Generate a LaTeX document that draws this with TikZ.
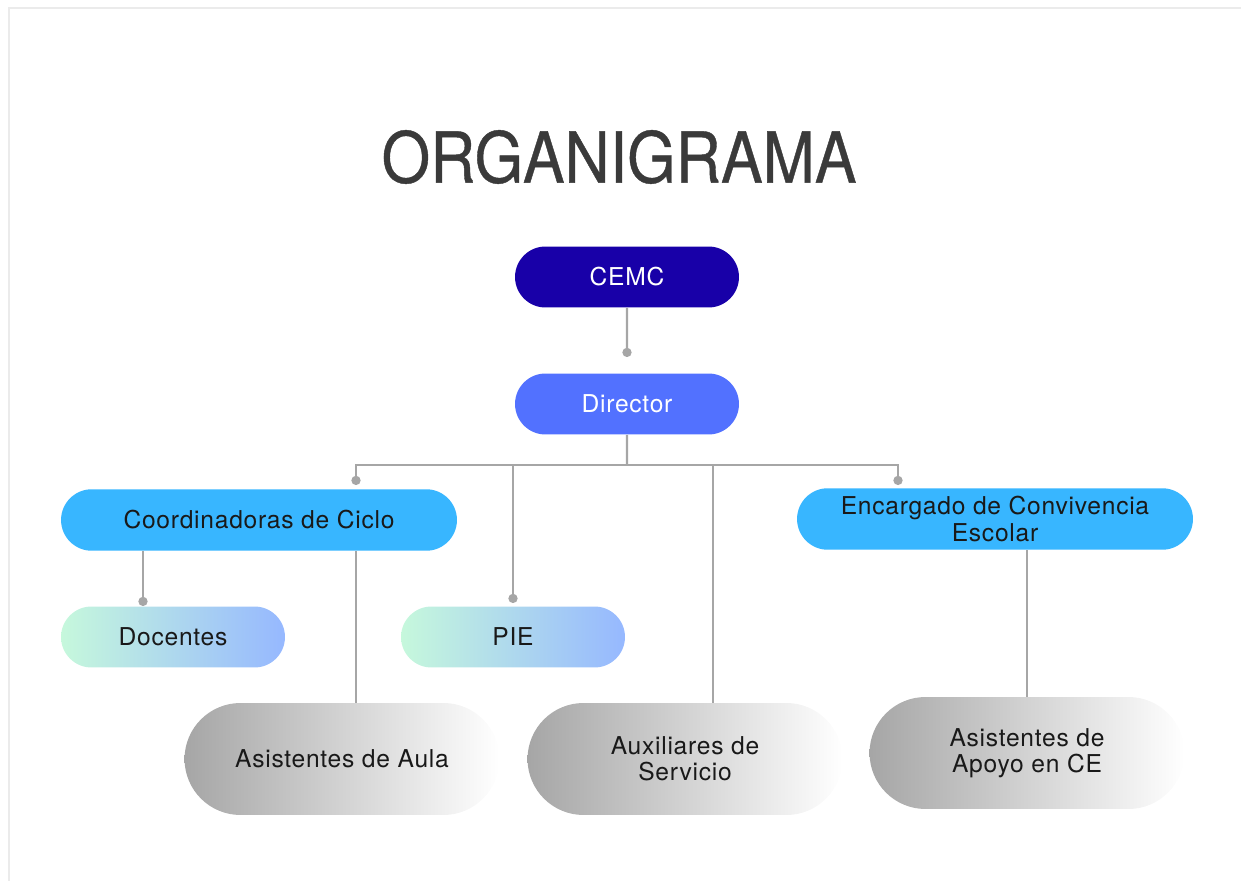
\documentclass[tikz,border=0pt]{standalone}
\usepackage{fontspec}
\setmainfont{TeX Gyre Heros}[LetterSpace=3]
\usetikzlibrary{shapes.misc,arrows.meta}

\definecolor{cemcblue}{HTML}{1800A8}
\definecolor{dirblue}{HTML}{5271FF}
\definecolor{skyblue}{HTML}{38B6FF}
\definecolor{mint}{HTML}{C6F8DC}
\definecolor{softblue}{HTML}{96B8FF}
\definecolor{linegray}{HTML}{A6A6A6}
\definecolor{titlegray}{HTML}{3A3A3A}

\begin{document}
\begin{tikzpicture}[x=0.02cm, y=-0.02cm,
	box/.style={shape=rounded rectangle, inner sep=0pt, align=center,
		font=\fontsize{14}{15}\selectfont, text=black!90},
	small/.style={box, minimum width=4.48cm, minimum height=1.22cm},
	wide/.style={box, minimum width=7.92cm, minimum height=1.23cm, fill=skyblue},
	big/.style={box, minimum width=6.3cm, minimum height=2.24cm,
		left color=black!35, right color=white},
	fade/.style={small, left color=mint, right color=softblue},
	link/.style={draw=linegray, line width=1.4pt},
	dot/.style={-{Circle[length=5.2pt, width=5.2pt, color=linegray, fill=linegray]}}]

	\useasboundingbox (0,0) rectangle (1241,881);
	\draw[black!8, line width=0.8pt] (9,881) -- (9,8) -- (1241,8);

	\node[font=\fontsize{40}{48}\selectfont, text=titlegray] (title) at (619,157)
		{\addfontfeature{LetterSpace=0,FakeBold=0.6}\scalebox{0.89}[1]{ORGANIGRAMA}};

	\node[small, fill=cemcblue, text=white] (cemc)     at (627, 277) {CEMC};
	\node[small, fill=dirblue, text=white]  (director) at (627, 404) {Director};
	\node[wide] (coord) at (259, 520) {Coordinadoras de Ciclo};
	\node[wide] (enc)   at (995, 519) {Encargado de Convivencia\\Escolar};
	\node[fade] (doc)   at (173, 637) {Docentes};
	\node[fade] (pie)   at (513, 637) {PIE};
	\node[big]  (aula)  at (342, 759) {Asistentes de Aula};
	\node[big]  (aux)   at (685, 759) {Auxiliares de\\Servicio};
	\node[big]  (apoyo) at (1027, 753) {Asistentes de\\Apoyo en CE};

	\coordinate (dcemc)  at (627, 357);
	\coordinate (bus)    at (627, 465);
	\coordinate (dcoord) at (356, 485);
	\coordinate (denc)   at (898, 485);
	\coordinate (dpie)   at (513, 603);
	\coordinate (taux)   at (713, 703);
	\coordinate (ddoc)   at (143, 606);

	\draw[link, dot] (cemc) -- (dcemc);
	\draw[link] (director) -- (bus);
	\draw[link, dot] (bus) -| (dcoord);
	\draw[link, dot] (bus) -| (denc);
	\draw[link, dot] (bus) -| (dpie);
	\draw[link] (bus) -| (taux);
	\draw[link, dot] (coord.south -| ddoc) -- (ddoc);
	\draw[link] (coord.south -| dcoord) -- (aula.north -| dcoord);
	\draw[link] (enc.south -| apoyo.north) -- (apoyo.north);

\end{tikzpicture}
\end{document}
